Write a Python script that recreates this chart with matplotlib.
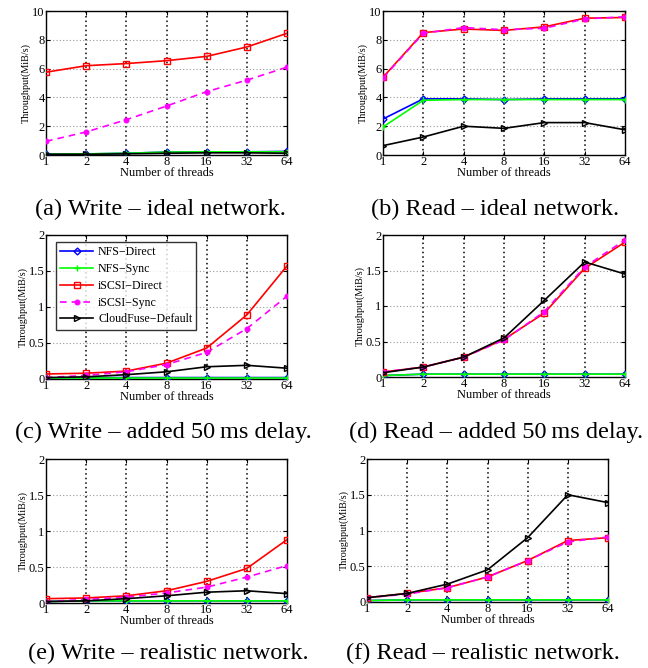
import matplotlib
matplotlib.use("Agg")
import matplotlib.pyplot as plt
import numpy as np

plt.rcParams['font.family'] = ['Liberation Serif', 'DejaVu Serif']
plt.rcParams['mathtext.fontset'] = 'stix'

threads = ["1", "2", "4", "8", "16", "32", "64"]
series_names = ["NFS\u2212Direct", "NFS\u2212Sync", "iSCSI\u2212Direct", "iSCSI\u2212Sync", "CloudFuse\u2212Default"]

# (a) Write - ideal network
a_nfs_direct = [0.05, 0.07, 0.12, 0.20, 0.22, 0.22, 0.25]
a_nfs_sync = [0.05, 0.08, 0.12, 0.20, 0.22, 0.22, 0.22]
a_iscsi_direct = [5.75, 6.2, 6.35, 6.55, 6.85, 7.5, 8.45]
a_iscsi_sync = [0.95, 1.6, 2.45, 3.4, 4.4, 5.2, 6.1]
a_cloudfuse = [0.05, 0.05, 0.08, 0.12, 0.15, 0.15, 0.12]

# (b) Read - ideal network
b_nfs_direct = [2.5, 3.9, 3.9, 3.85, 3.9, 3.9, 3.9]
b_nfs_sync = [1.95, 3.8, 3.85, 3.85, 3.85, 3.85, 3.85]
b_iscsi_direct = [5.4, 8.5, 8.75, 8.65, 8.9, 9.5, 9.55]
b_iscsi_sync = [5.35, 8.45, 8.85, 8.7, 8.8, 9.45, 9.6]
b_cloudfuse = [0.65, 1.25, 2.0, 1.85, 2.25, 2.25, 1.75]

# (c) Write - added 50 ms delay
c_nfs_direct = [0.01, 0.02, 0.02, 0.02, 0.02, 0.02, 0.02]
c_nfs_sync = [0.02, 0.02, 0.02, 0.02, 0.02, 0.02, 0.02]
c_iscsi_direct = [0.07, 0.08, 0.11, 0.22, 0.43, 0.89, 1.57]
c_iscsi_sync = [0.02, 0.05, 0.10, 0.20, 0.37, 0.70, 1.15]
c_cloudfuse = [0.02, 0.03, 0.06, 0.10, 0.17, 0.19, 0.15]

# (d) Read - added 50 ms delay
d_nfs_direct = [0.02, 0.04, 0.04, 0.04, 0.04, 0.04, 0.04]
d_nfs_sync = [0.02, 0.04, 0.04, 0.04, 0.04, 0.04, 0.04]
d_iscsi_direct = [0.07, 0.14, 0.28, 0.53, 0.90, 1.53, 1.90]
d_iscsi_sync = [0.07, 0.14, 0.28, 0.52, 0.92, 1.55, 1.93]
d_cloudfuse = [0.06, 0.14, 0.28, 0.55, 1.08, 1.62, 1.45]

# (e) Write - realistic network
e_nfs_direct = [0.02, 0.03, 0.03, 0.03, 0.03, 0.03, 0.03]
e_nfs_sync = [0.02, 0.03, 0.03, 0.03, 0.03, 0.03, 0.03]
e_iscsi_direct = [0.06, 0.07, 0.10, 0.17, 0.30, 0.48, 0.88]
e_iscsi_sync = [0.02, 0.05, 0.08, 0.14, 0.22, 0.36, 0.52]
e_cloudfuse = [0.02, 0.03, 0.06, 0.10, 0.15, 0.17, 0.13]

# (f) Read - realistic network
f_nfs_direct = [0.02, 0.03, 0.03, 0.03, 0.03, 0.03, 0.03]
f_nfs_sync = [0.02, 0.03, 0.03, 0.03, 0.03, 0.03, 0.03]
f_iscsi_direct = [0.06, 0.12, 0.20, 0.35, 0.58, 0.86, 0.90]
f_iscsi_sync = [0.06, 0.11, 0.20, 0.35, 0.58, 0.84, 0.91]
f_cloudfuse = [0.06, 0.12, 0.25, 0.45, 0.90, 1.50, 1.39]

captions = ["(a) Write \u2013 ideal network.", "(b) Read \u2013 ideal network.",
            "(c) Write \u2013 added 50\u2009ms delay.", "(d) Read \u2013 added 50\u2009ms delay.",
            "(e) Write \u2013 realistic network.", "(f) Read \u2013 realistic network."]

panels = [
    (a_nfs_direct, a_nfs_sync, a_iscsi_direct, a_iscsi_sync, a_cloudfuse),
    (b_nfs_direct, b_nfs_sync, b_iscsi_direct, b_iscsi_sync, b_cloudfuse),
    (c_nfs_direct, c_nfs_sync, c_iscsi_direct, c_iscsi_sync, c_cloudfuse),
    (d_nfs_direct, d_nfs_sync, d_iscsi_direct, d_iscsi_sync, d_cloudfuse),
    (e_nfs_direct, e_nfs_sync, e_iscsi_direct, e_iscsi_sync, e_cloudfuse),
    (f_nfs_direct, f_nfs_sync, f_iscsi_direct, f_iscsi_sync, f_cloudfuse),
]

ylims = [10, 10, 2, 2, 2, 2]
yticks_list = [[0, 2, 4, 6, 8, 10], [0, 2, 4, 6, 8, 10],
               [0, 0.5, 1, 1.5, 2], [0, 0.5, 1, 1.5, 2],
               [0, 0.5, 1, 1.5, 2], [0, 0.5, 1, 1.5, 2]]
ytick_labels = [["0", "2", "4", "6", "8", "10"], ["0", "2", "4", "6", "8", "10"],
                ["0", "0.5", "1", "1.5", "2"], ["0", "0.5", "1", "1.5", "2"],
                ["0", "0.5", "1", "1.5", "2"], ["0", "0.5", "1", "1.5", "2"]]

W, H = 648, 668
# axes boxes in pixels: left, right, top, bottom
boxes = [(46, 287, 11, 155), (383, 625, 11, 155),
         (46, 287, 235, 379), (383, 625, 235, 377),
         (46, 287, 459, 603), (367, 608, 459, 602)]
cap_pos = [(160, 209), (495, 209), (163, 432), (496, 432), (168, 653), (483, 653)]

styles = [
    dict(color='#0000ff', ls='-', marker='D', mfc='none', ms=3.5, mew=1.0),
    dict(color='#00ff00', ls='-', marker='+', ms=5, mew=1.0),
    dict(color='#ff0000', ls='-', marker='s', mfc='none', ms=4, mew=1.0),
    dict(color='#ff00ff', ls='--', marker='o', ms=3.5, mew=0.8, dashes=(4, 3)),
    dict(color='black', ls='-', marker='>', mfc='none', ms=5, mew=1.0),
]
draw_order = [0, 1, 3, 2, 4]

fig = plt.figure(figsize=(W / 100, H / 100), dpi=100)
x = np.arange(len(threads))

for i, (data, box) in enumerate(zip(panels, boxes)):
    l, r, t, b = box
    ax = fig.add_axes([l / W, 1 - b / H, (r - l) / W, (b - t) / H])
    lines = {}
    for k in draw_order:
        st = dict(styles[k])
        ln, = ax.plot(x, data[k], lw=1.2, label=series_names[k], zorder=3 + k * 0.1, **st)
        lines[k] = ln
    ax.set_xlim(0, 6)
    ax.set_ylim(0, ylims[i])
    ax.set_xticks(x)
    ax.set_xticklabels(threads, fontsize=9)
    ax.set_yticks(yticks_list[i])
    ax.set_yticklabels(ytick_labels[i], fontsize=9)
    for xv in x[1:-1]:
        ax.axvline(xv, color='black', ls=(0, (1, 2)), lw=1.1, zorder=1)
    for yv in yticks_list[i][1:-1]:
        ax.axhline(yv, color='#999999', ls=(0, (1, 2)), lw=0.8, zorder=1)
    ax.tick_params(direction='in', length=3, width=0.8, pad=1.0)
    ax.tick_params(top=True, right=True)
    for s in ax.spines.values():
        s.set_linewidth(1.0)
    ax.set_xlabel("Number of threads", fontsize=9, labelpad=-1)
    ax.set_ylabel("Throughput(MiB/s)", fontsize=7.3, labelpad=1)
    if i == 2:
        leg = ax.legend([lines[k] for k in range(5)], [series_names[k] for k in range(5)],
                        loc='upper left', bbox_to_anchor=(0.04, 0.95), fontsize=8.6,
                        frameon=True, fancybox=False, edgecolor='black',
                        handlelength=2.8, borderpad=0.35, labelspacing=0.4,
                        handletextpad=0.4, borderaxespad=0)
        leg.get_frame().set_linewidth(1.0)
        leg.set_zorder(10)
    cx, cy = cap_pos[i]
    fig.text(cx / W, 1 - cy / H, captions[i], ha='center', va='center', fontsize=17.5)

fig.savefig("out.png", dpi=100)
